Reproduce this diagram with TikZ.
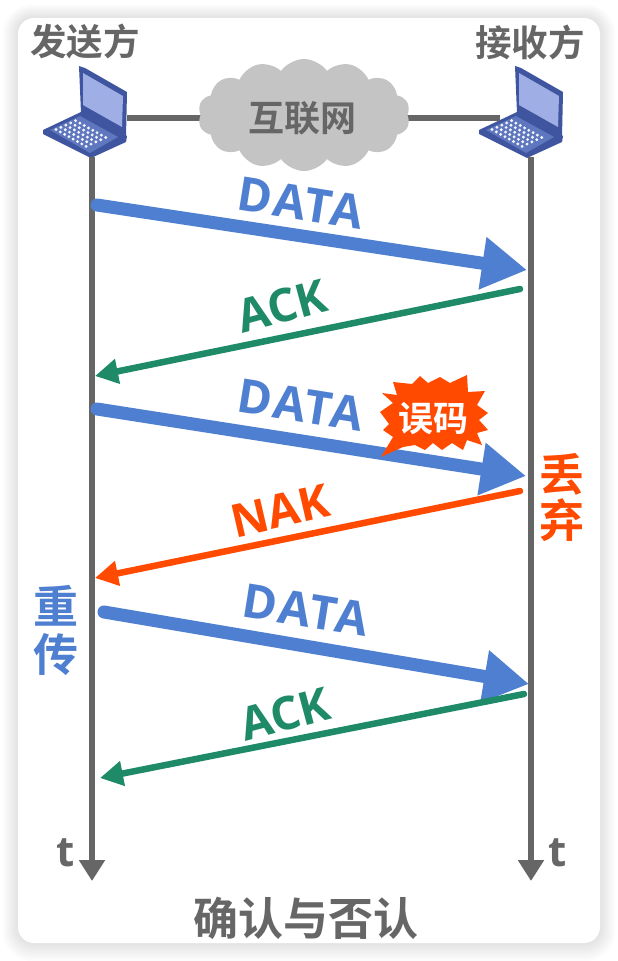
\documentclass[tikz,border=0pt]{standalone}
\usepackage{fontspec}
\setmainfont{Open Sans}
\newfontfamily\cjk{Noto Sans CJK SC}[BoldFont=* Bold]
\newfontfamily\spaced{Open Sans}[LetterSpace=5]
\usetikzlibrary{arrows.meta,shapes.symbols}
\definecolor{axisgray}{HTML}{666666}
\definecolor{cloudgray}{HTML}{C4C4C4}
\definecolor{datablue}{HTML}{4F7FD0}
\definecolor{ackgreen}{HTML}{1F8A68}
\definecolor{nakorange}{HTML}{FF4A00}
\definecolor{lapedge}{HTML}{3F559F}
\definecolor{lapscreen}{HTML}{A0AEE6}
\definecolor{lapkey}{HTML}{5F77BE}
\newcommand{\fsz}[1]{\fontsize{#1}{#1}\selectfont}
\tikzset{
  x=1pt,y=-1pt,
  lbl/.style={inner sep=0pt,font=\cjk\bfseries\fsz{#1}},
  axisline/.style={draw=axisgray,line width=6.5pt,-{Triangle[length=21pt,width=25pt]}},
  linkline/.style={draw=axisgray,line width=6.5pt},
  dataarrow/.style={draw=datablue,line width=13pt,line cap=round,-{Triangle[length=45pt,width=50pt]}},
  thinarrow/.style={line width=6.5pt,line cap=round,-{Triangle[length=23pt,width=24pt]}},
  datalbl/.style={inner sep=0pt,text=datablue,font=\spaced\bfseries\fsz{47},rotate=-9},
  acklbl/.style={inner sep=0pt,text=ackgreen,font=\bfseries\fsz{46},rotate=15},
  naklbl/.style={inner sep=0pt,text=nakorange,font=\bfseries\fsz{46},rotate=13},
  tlbl/.style={inner sep=0pt,text=axisgray,font=\bfseries\fsz{42}},
  laptop/.pic={
    \fill[lapedge] (79,66) -- (85,68) -- (127,92) -- (126,137) -- (81,113) -- cycle;
    \fill[lapscreen] (83,73) -- (123,96) -- (122,127) -- (83,105) -- cycle;
    \fill[lapedge] (43,130) -- (81,112) -- (127,136) -- (126,142) -- (91,158) -- (43,134) -- cycle;
    \fill[lapkey] (50,130) -- (80,116) -- (118,137) -- (90,153) -- cycle;
    \foreach \i in {0,...,7}{\foreach \j in {0,...,4}{
      \fill[white!90!lapscreen] ({56+4.3*\i+4.9*\j},{129.5+2.4*\i-2.2*\j}) circle (1.6pt);
    }}
  }
}
\begin{document}
\begin{tikzpicture}
\useasboundingbox (0,0) rectangle (618,961);
\fill[white] (0,0) rectangle (618,961);
% card with soft shadow
\foreach \s in {9,8,...,1}{
  \fill[black,opacity=0.012,rounded corners={16pt+\s*1.5pt}] ({18-1.7*\s},{18-1.5*\s}) rectangle ({600+1.7*\s},{943+2*\s});
}
\fill[white,rounded corners=16pt] (18,18) rectangle (600,943);

% laptops
\pic at (0,0) {laptop};
\pic at (436,0) {laptop};

% named end points
\coordinate (senderTop) at (92,157);
\coordinate (senderEnd) at (92,881);
\coordinate (receiverTop) at (531,157);
\coordinate (receiverEnd) at (531,881);
\coordinate (senderPort) at (127,118);
\coordinate (receiverPort) at (500,118);
\coordinate (d1s) at (97,205);   \coordinate (d1e) at (527,270);
\coordinate (a1s) at (520,289);  \coordinate (a1e) at (95,376);
\coordinate (d2s) at (97,409);   \coordinate (d2e) at (526,476);
\coordinate (ns) at (520,491);   \coordinate (ne) at (95,578);
\coordinate (d3s) at (104,612);  \coordinate (d3e) at (529,684);
\coordinate (a2s) at (524,694);  \coordinate (a2e) at (100,778);

% network
\draw[linkline] (senderPort) -- (304,118);
\draw[linkline] (304,118) -- (receiverPort);
\node[cloud,cloud puffs=14,cloud puff arc=110,aspect=1.9,fill=cloudgray,draw=none,inner sep=0pt,
      minimum width=212pt,minimum height=112pt,text=axisgray] (net) at (304,115) {};
\node[lbl=36,text=axisgray] (netlabel) at (302,118) {互联网};

% time axes
\draw[axisline] (senderTop) -- (senderEnd);
\draw[axisline] (receiverTop) -- (receiverEnd);

% messages
\draw[dataarrow] (d1s) -- (d1e);
\draw[thinarrow,draw=ackgreen] (a1s) -- (a1e);
\draw[dataarrow] (d2s) -- (d2e);
\draw[thinarrow,draw=nakorange] (ns) -- (ne);
\draw[dataarrow] (d3s) -- (d3e);
\draw[thinarrow,draw=ackgreen] (a2s) -- (a2e);

% burst
\fill[nakorange] (381,457) -- (393,437) -- (383,430) -- (389,424) -- (380,412) -- (393,403) -- (382,393) -- (397,395) -- (393,382) -- (412,384) -- (420,376) -- (428,383) -- (440,377) -- (450,383) -- (467,375) -- (468,392) -- (485,391) -- (477,405) -- (488,413) -- (479,420) -- (488,430) -- (477,433) -- (482,445) -- (467,440) -- (463,450) -- (452,443) -- (442,450) -- (433,443) -- (425,450) -- (415,445) -- (403,447) -- cycle;
\node[lbl=35,text=white] (err) at (433,418) {误码};

% labels
\node[lbl=36.5,text=axisgray] (sender) at (85,42) {发送方};
\node[lbl=36.5,text=axisgray] (receiver) at (530,42) {接收方};
\node[datalbl] (l1) at (301,203) {DATA};
\node[acklbl] (l2) at (282,306) {ACK};
\node[datalbl] (l3) at (301,405) {DATA};
\node[naklbl] (l4) at (280,511) {NAK};
\node[datalbl] (l5) at (306,610) {DATA};
\node[acklbl] (l6) at (285,714) {ACK};
\node[lbl=45,text=nakorange] (drop1) at (562,474) {丢};
\node[lbl=45,text=nakorange] (drop2) at (562,520) {弃};
\node[lbl=45,text=datablue] (re1) at (56,606) {重};
\node[lbl=45,text=datablue] (re2) at (56,655) {传};
\node[tlbl] (t1) at (66,853) {t};
\node[tlbl] (t2) at (558,853) {t};
\node[lbl=45,text=axisgray] (title) at (306,918) {确认与否认};
\end{tikzpicture}
\end{document}
